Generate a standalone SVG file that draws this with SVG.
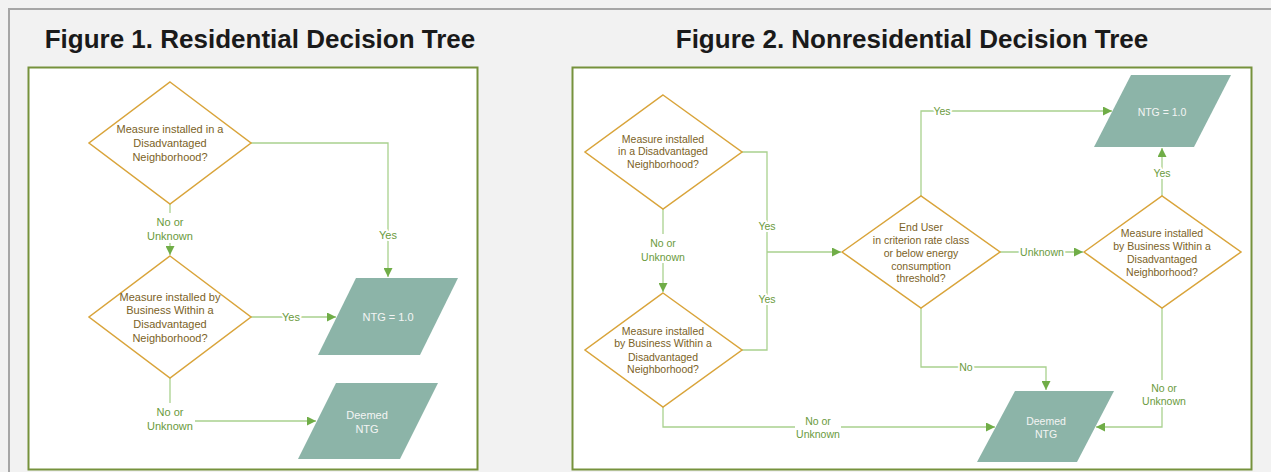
<svg xmlns="http://www.w3.org/2000/svg" width="1271" height="472" viewBox="0 0 1271 472">
<style>
.bg{fill:#f2f2f2}
.frame{fill:none;stroke:#a6a6a6;stroke-width:2}
.panel{fill:#ffffff;stroke:#76923c;stroke-width:2}
.title{font-family:"Liberation Sans",Arial,sans-serif;font-weight:bold;font-size:26px;fill:#1a1a1a;text-anchor:middle}
.dia{fill:#ffffff;stroke:#d9a43a;stroke-width:1.5}
.io{fill:#8cb4a8}
.t1{font-family:"Liberation Sans",Arial,sans-serif;font-size:11px;fill:#7b6226;text-anchor:middle}
.t2{font-family:"Liberation Sans",Arial,sans-serif;font-size:10.5px;fill:#7b6226;text-anchor:middle}
.w1{font-family:"Liberation Sans",Arial,sans-serif;font-size:11px;fill:#f4f4f4;text-anchor:middle}
.w2{font-family:"Liberation Sans",Arial,sans-serif;font-size:10.5px;fill:#f4f4f4;text-anchor:middle}
.ln{fill:none;stroke:#a9d18e;stroke-width:1.3}
.arr{marker-end:url(#ah)}
.lb1{font-family:"Liberation Sans",Arial,sans-serif;font-size:11px;fill:#6a9a3c;text-anchor:middle;stroke:#ffffff;stroke-width:4;paint-order:stroke;stroke-linejoin:round}
.lb2{font-family:"Liberation Sans",Arial,sans-serif;font-size:10.5px;fill:#6a9a3c;text-anchor:middle;stroke:#ffffff;stroke-width:4;paint-order:stroke;stroke-linejoin:round}
.lbg{fill:#ffffff}
</style>
<defs>
<marker id="ah" markerWidth="9" markerHeight="9" refX="9" refY="4.5" orient="auto" markerUnits="userSpaceOnUse">
<path d="M0,0 L9,4.5 L0,9 z" fill="#70ad47"/>
</marker>
</defs>
<rect class="bg" x="0" y="0" width="1271" height="472"/>
<path class="frame" d="M9,472 V9 H1271"/>
<text class="title" x="260" y="48">Figure 1. Residential Decision Tree</text>
<text class="title" x="912" y="48">Figure 2. Nonresidential Decision Tree</text>
<rect class="panel" x="28.5" y="67.5" width="449" height="402"/>
<rect class="panel" x="572.5" y="67.5" width="679" height="402"/>

<g id="connectors">
<!-- Figure 1 -->
<path class="ln arr" d="M170,204 V255"/>
<path class="ln arr" d="M251,143 H388 V277"/>
<path class="ln arr" d="M251,317 H336"/>
<path class="ln arr" d="M170,378 V421 H316"/>
<!-- Figure 2 -->
<path class="ln arr" d="M663,209 V292"/>
<path class="ln" d="M742,152 H767 V350 H742"/>
<path class="ln arr" d="M767,252 H841"/>
<path class="ln arr" d="M921,196 V111 H1112"/>
<path class="ln arr" d="M1000,252 H1083"/>
<path class="ln arr" d="M921,308 V367 H1046 V390"/>
<path class="ln arr" d="M1162,196 V148"/>
<path class="ln arr" d="M1162,308 V427 H1096"/>
<path class="ln arr" d="M663,407 V427 H995"/>
<!-- labels -->
<rect class="lbg" x="146" y="213" width="48" height="30"/>
<text class="lb1" x="170" y="226">No or</text>
<text class="lb1" x="170" y="240">Unknown</text>
<text class="lb1" x="388" y="239">Yes</text>
<text class="lb1" x="291" y="321">Yes</text>
<rect class="lbg" x="145" y="403" width="50" height="30"/>
<text class="lb1" x="170" y="416">No or</text>
<text class="lb1" x="170" y="430">Unknown</text>
<rect class="lbg" x="640" y="234" width="46" height="29"/>
<text class="lb2" x="663" y="247">No or</text>
<text class="lb2" x="663" y="261">Unknown</text>
<text class="lb2" x="767" y="230">Yes</text>
<text class="lb2" x="767" y="303">Yes</text>
<text class="lb2" x="942" y="115">Yes</text>
<text class="lb2" x="1042" y="256">Unknown</text>
<text class="lb2" x="966" y="371">No</text>
<text class="lb2" x="1162" y="177">Yes</text>
<rect class="lbg" x="1141" y="380" width="46" height="27"/>
<text class="lb2" x="1164" y="392">No or</text>
<text class="lb2" x="1164" y="405">Unknown</text>
<rect class="lbg" x="795" y="413" width="46" height="28"/>
<text class="lb2" x="818" y="425">No or</text>
<text class="lb2" x="818" y="438">Unknown</text>
</g>

<g id="f1-q1">
<polygon class="dia" points="170,82 251,143 170,204 89,143"/>
<text class="t1" x="170" y="133">Measure installed in a</text>
<text class="t1" x="170" y="147">Disadvantaged</text>
<text class="t1" x="170" y="161">Neighborhood?</text>
</g>
<g id="f1-q2">
<polygon class="dia" points="170,256 251,317 170,378 89,317"/>
<text class="t1" x="170" y="301">Measure installed by</text>
<text class="t1" x="170" y="314">Business Within a</text>
<text class="t1" x="170" y="328">Disadvantaged</text>
<text class="t1" x="170" y="342">Neighborhood?</text>
</g>
<g id="f1-ntg1">
<polygon class="io" points="356,278 458,278 420,355 318,355"/>
<text class="w1" x="388" y="321">NTG = 1.0</text>
</g>
<g id="f1-deemed">
<polygon class="io" points="336,383 438,383 400,459 298,459"/>
<text class="w1" x="367" y="419">Deemed</text>
<text class="w1" x="367" y="433">NTG</text>
</g>

<g id="f2-q1">
<polygon class="dia" points="663,95 742,152 663,209 585,152"/>
<text class="t2" x="663" y="143">Measure installed</text>
<text class="t2" x="663" y="155">in a Disadvantaged</text>
<text class="t2" x="663" y="168">Neighborhood?</text>
</g>
<g id="f2-q2">
<polygon class="dia" points="663,293 742,350 663,407 585,350"/>
<text class="t2" x="663" y="335">Measure installed</text>
<text class="t2" x="663" y="347">by Business Within a</text>
<text class="t2" x="663" y="361">Disadvantaged</text>
<text class="t2" x="663" y="373">Neighborhood?</text>
</g>
<g id="f2-enduser">
<polygon class="dia" points="842,252 921,196 1000,252 921,308"/>
<text class="t2" x="921" y="231">End User</text>
<text class="t2" x="921" y="244">in criterion rate class</text>
<text class="t2" x="921" y="257">or below energy</text>
<text class="t2" x="921" y="270">consumption</text>
<text class="t2" x="921" y="282">threshold?</text>
</g>
<g id="f2-q3">
<polygon class="dia" points="1084,252 1162,196 1241,252 1162,308"/>
<text class="t2" x="1162" y="237">Measure installed</text>
<text class="t2" x="1162" y="250">by Business Within a</text>
<text class="t2" x="1162" y="263">Disadvantaged</text>
<text class="t2" x="1162" y="276">Neighborhood?</text>
</g>
<g id="f2-ntg1">
<polygon class="io" points="1131,75 1231,75 1194,147 1094,147"/>
<text class="w2" x="1162" y="116">NTG = 1.0</text>
</g>
<g id="f2-deemed">
<polygon class="io" points="1015,391 1114,391 1077,462 977,462"/>
<text class="w2" x="1046" y="425">Deemed</text>
<text class="w2" x="1046" y="438">NTG</text>
</g>
</svg>
